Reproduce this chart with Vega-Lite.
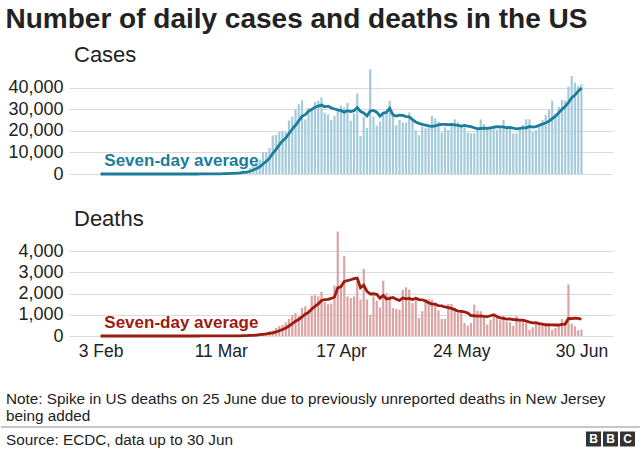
{
  "$schema": "https://vega.github.io/schema/vega-lite/v6.json",
  "background": "white",
  "padding": {"left": 0, "right": 0, "top": 6, "bottom": 2},
  "config": {
    "font": "Liberation Sans",
    "view": {"stroke": null},
    "axis": {"labelFont": "Liberation Sans", "labelColor": "#222222", "domain": false, "ticks": false, "title": null}
  },
  "title": {"text": "Number of daily cases and deaths in the US", "anchor": "start", "frame": "bounds", "dx": 5, "fontSize": 28, "fontWeight": "bold", "color": "#222222", "offset": 10},
  "datasets": {
    "covid": [
      {"date":"2020-02-03","cases":0,"deaths":0},{"date":"2020-02-04","cases":0,"deaths":0},{"date":"2020-02-05","cases":0,"deaths":0},{"date":"2020-02-06","cases":1,"deaths":0},{"date":"2020-02-07","cases":0,"deaths":0},{"date":"2020-02-08","cases":0,"deaths":0},{"date":"2020-02-09","cases":0,"deaths":0},{"date":"2020-02-10","cases":0,"deaths":0},{"date":"2020-02-11","cases":0,"deaths":0},{"date":"2020-02-12","cases":1,"deaths":0},{"date":"2020-02-13","cases":0,"deaths":0},{"date":"2020-02-14","cases":0,"deaths":0},{"date":"2020-02-15","cases":0,"deaths":0},{"date":"2020-02-16","cases":0,"deaths":0},{"date":"2020-02-17","cases":0,"deaths":0},{"date":"2020-02-18","cases":0,"deaths":0},{"date":"2020-02-19","cases":1,"deaths":0},{"date":"2020-02-20","cases":0,"deaths":0},{"date":"2020-02-21","cases":14,"deaths":0},{"date":"2020-02-22","cases":0,"deaths":0},{"date":"2020-02-23","cases":0,"deaths":0},{"date":"2020-02-24","cases":0,"deaths":0},{"date":"2020-02-25","cases":1,"deaths":0},{"date":"2020-02-26","cases":1,"deaths":0},{"date":"2020-02-27","cases":0,"deaths":0},{"date":"2020-02-28","cases":0,"deaths":0},{"date":"2020-02-29","cases":3,"deaths":0},
      {"date":"2020-03-01","cases":3,"deaths":1},{"date":"2020-03-02","cases":7,"deaths":1},{"date":"2020-03-03","cases":23,"deaths":4},{"date":"2020-03-04","cases":19,"deaths":1},{"date":"2020-03-05","cases":33,"deaths":3},{"date":"2020-03-06","cases":77,"deaths":2},{"date":"2020-03-07","cases":53,"deaths":1},{"date":"2020-03-08","cases":166,"deaths":3},{"date":"2020-03-09","cases":116,"deaths":2},{"date":"2020-03-10","cases":75,"deaths":4},{"date":"2020-03-11","cases":187,"deaths":3},{"date":"2020-03-12","cases":309,"deaths":5},{"date":"2020-03-13","cases":329,"deaths":8},{"date":"2020-03-14","cases":553,"deaths":12},{"date":"2020-03-15","cases":587,"deaths":14},{"date":"2020-03-16","cases":843,"deaths":9},{"date":"2020-03-17","cases":982,"deaths":22},{"date":"2020-03-18","cases":1748,"deaths":27},{"date":"2020-03-19","cases":1296,"deaths":43},{"date":"2020-03-20","cases":2836,"deaths":56},{"date":"2020-03-21","cases":4528,"deaths":61},{"date":"2020-03-22","cases":5236,"deaths":100},{"date":"2020-03-23","cases":6731,"deaths":120},{"date":"2020-03-24","cases":10093,"deaths":140},{"date":"2020-03-25","cases":10037,"deaths":160},{"date":"2020-03-26","cases":12012,"deaths":230},{"date":"2020-03-27","cases":17821,"deaths":250},{"date":"2020-03-28","cases":18079,"deaths":380},{"date":"2020-03-29","cases":19452,"deaths":470},{"date":"2020-03-30","cases":19913,"deaths":520},{"date":"2020-03-31","cases":19332,"deaths":640},
      {"date":"2020-04-01","cases":24742,"deaths":810},{"date":"2020-04-02","cases":26473,"deaths":1000},{"date":"2020-04-03","cases":29874,"deaths":1090},{"date":"2020-04-04","cases":32284,"deaths":930},{"date":"2020-04-05","cases":34196,"deaths":1320},{"date":"2020-04-06","cases":25316,"deaths":1400},{"date":"2020-04-07","cases":30561,"deaths":1250},{"date":"2020-04-08","cases":30613,"deaths":1900},{"date":"2020-04-09","cases":33323,"deaths":1920},{"date":"2020-04-10","cases":33901,"deaths":1870},{"date":"2020-04-11","cases":35527,"deaths":2080},{"date":"2020-04-12","cases":28391,"deaths":1600},{"date":"2020-04-13","cases":27620,"deaths":1500},{"date":"2020-04-14","cases":25023,"deaths":1530},{"date":"2020-04-15","cases":26922,"deaths":2380},{"date":"2020-04-16","cases":30148,"deaths":4930},{"date":"2020-04-17","cases":31667,"deaths":2300},{"date":"2020-04-18","cases":30833,"deaths":3770},{"date":"2020-04-19","cases":32922,"deaths":1870},{"date":"2020-04-20","cases":24601,"deaths":1800},{"date":"2020-04-21","cases":28065,"deaths":1870},{"date":"2020-04-22","cases":37289,"deaths":2600},{"date":"2020-04-23","cases":17588,"deaths":1720},{"date":"2020-04-24","cases":26543,"deaths":3160},{"date":"2020-04-25","cases":21352,"deaths":1720},{"date":"2020-04-26","cases":48529,"deaths":1000},{"date":"2020-04-27","cases":26600,"deaths":1870},{"date":"2020-04-28","cases":22400,"deaths":1670},{"date":"2020-04-29","cases":24200,"deaths":1350},{"date":"2020-04-30","cases":28000,"deaths":2610},
      {"date":"2020-05-01","cases":29000,"deaths":2030},{"date":"2020-05-02","cases":33900,"deaths":1900},{"date":"2020-05-03","cases":27800,"deaths":1320},{"date":"2020-05-04","cases":22700,"deaths":1280},{"date":"2020-05-05","cases":25000,"deaths":1240},{"date":"2020-05-06","cases":23800,"deaths":2170},{"date":"2020-05-07","cases":23800,"deaths":2300},{"date":"2020-05-08","cases":28500,"deaths":2190},{"date":"2020-05-09","cases":24700,"deaths":1560},{"date":"2020-05-10","cases":20300,"deaths":1720},{"date":"2020-05-11","cases":18000,"deaths":850},{"date":"2020-05-12","cases":21900,"deaths":1170},{"date":"2020-05-13","cases":21200,"deaths":1750},{"date":"2020-05-14","cases":21600,"deaths":1750},{"date":"2020-05-15","cases":26900,"deaths":1720},{"date":"2020-05-16","cases":25800,"deaths":1560},{"date":"2020-05-17","cases":24200,"deaths":1210},{"date":"2020-05-18","cases":19200,"deaths":800},{"date":"2020-05-19","cases":21600,"deaths":800},{"date":"2020-05-20","cases":20400,"deaths":1510},{"date":"2020-05-21","cases":22700,"deaths":1510},{"date":"2020-05-22","cases":25300,"deaths":1320},{"date":"2020-05-23","cases":23900,"deaths":1090},{"date":"2020-05-24","cases":22200,"deaths":1090},{"date":"2020-05-25","cases":21600,"deaths":610},{"date":"2020-05-26","cases":19200,"deaths":490},{"date":"2020-05-27","cases":18800,"deaths":610},{"date":"2020-05-28","cases":18800,"deaths":1480},{"date":"2020-05-29","cases":21600,"deaths":1190},{"date":"2020-05-30","cases":25300,"deaths":1170},{"date":"2020-05-31","cases":23200,"deaths":930},
      {"date":"2020-06-01","cases":20700,"deaths":540},{"date":"2020-06-02","cases":21200,"deaths":770},{"date":"2020-06-03","cases":20700,"deaths":960},{"date":"2020-06-04","cases":20400,"deaths":900},{"date":"2020-06-05","cases":21200,"deaths":740},{"date":"2020-06-06","cases":25000,"deaths":960},{"date":"2020-06-07","cases":20700,"deaths":690},{"date":"2020-06-08","cases":21600,"deaths":650},{"date":"2020-06-09","cases":18800,"deaths":490},{"date":"2020-06-10","cases":18800,"deaths":930},{"date":"2020-06-11","cases":21600,"deaths":770},{"date":"2020-06-12","cases":22700,"deaths":770},{"date":"2020-06-13","cases":25300,"deaths":650},{"date":"2020-06-14","cases":25300,"deaths":300},{"date":"2020-06-15","cases":19600,"deaths":410},{"date":"2020-06-16","cases":20400,"deaths":610},{"date":"2020-06-17","cases":23200,"deaths":580},{"date":"2020-06-18","cases":25000,"deaths":580},{"date":"2020-06-19","cases":27300,"deaths":580},{"date":"2020-06-20","cases":29700,"deaths":610},{"date":"2020-06-21","cases":34000,"deaths":300},{"date":"2020-06-22","cases":28000,"deaths":380},{"date":"2020-06-23","cases":31200,"deaths":580},{"date":"2020-06-24","cases":34300,"deaths":800},{"date":"2020-06-25","cases":34000,"deaths":690},{"date":"2020-06-26","cases":40500,"deaths":2430},{"date":"2020-06-27","cases":45400,"deaths":580},{"date":"2020-06-28","cases":42300,"deaths":460},{"date":"2020-06-29","cases":40800,"deaths":270},{"date":"2020-06-30","cases":41500,"deaths":300}
    ]
  },
  "vconcat": [
    {
      "vconcat": [
        {
          "width": 544,
          "height": 108,
          "title": {"text": "Cases", "anchor": "start", "frame": "group", "dx": 5, "fontSize": 22, "fontWeight": "normal", "color": "#222222", "offset": -1},
          "data": {"name": "covid"},
          "transform": [{"window": [{"op": "mean", "field": "cases", "as": "avg"}], "frame": [-6, 0], "sort": [{"field": "date"}]}],
          "layer": [
            {
              "mark": {"type": "bar", "color": "#a3cbdb", "size": 2.2},
              "encoding": {
                "x": {"field": "date", "type": "temporal", "scale": {"type": "utc", "domain": [{"year": 2020, "month": 1, "date": 25, "hours": 20, "utc": true}, {"year": 2020, "month": 7, "date": 8, "hours": 4, "utc": true}]}, "axis": null},
                "y": {"field": "cases", "type": "quantitative", "scale": {"domain": [0, 50000]}, "axis": {"values": [0, 10000, 20000, 30000, 40000], "tickCount": 5, "format": ",.0f", "labelOverlap": false, "grid": true, "gridColor": "#dadada", "labelFontSize": 18, "labelPadding": 6, "minExtent": 68, "maxExtent": 68}}
              }
            },
            {
              "mark": {"type": "line", "color": "#1b7d9b", "strokeWidth": 2.8},
              "encoding": {
                "x": {"field": "date", "type": "temporal", "axis": null},
                "y": {"field": "avg", "type": "quantitative", "axis": {"values": [0, 10000, 20000, 30000, 40000], "tickCount": 5, "format": ",.0f", "labelOverlap": false, "grid": true, "gridColor": "#dadada", "labelFontSize": 18, "labelPadding": 6, "minExtent": 68, "maxExtent": 68}}
              }
            },
            {
              "data": {"values": [{"label": "Seven-day average"}]},
              "mark": {"type": "text", "color": "#1b7d9b", "fontSize": 17, "fontWeight": "bold", "align": "left", "baseline": "alphabetic"},
              "encoding": {
                "x": {"datum": {"year": 2020, "month": 2, "date": 4, "hours": 4, "utc": true}, "type": "temporal", "axis": null},
                "y": {"datum": 3800, "type": "quantitative", "axis": {"values": [0, 10000, 20000, 30000, 40000], "tickCount": 5, "format": ",.0f", "labelOverlap": false, "grid": true, "gridColor": "#dadada", "labelFontSize": 18, "labelPadding": 6, "minExtent": 68, "maxExtent": 68}},
                "text": {"field": "label"}
              }
            }
          ]
        },
        {
          "width": 544,
          "height": 106,
          "title": {"text": "Deaths", "anchor": "start", "frame": "group", "dx": 5, "fontSize": 22, "fontWeight": "normal", "color": "#222222", "offset": -1},
          "data": {"name": "covid"},
          "transform": [{"window": [{"op": "mean", "field": "deaths", "as": "avg"}], "frame": [-6, 0], "sort": [{"field": "date"}]}],
          "layer": [
            {
              "mark": {"type": "bar", "color": "#dba3a3", "size": 2.2},
              "encoding": {
                "x": {"field": "date", "type": "temporal", "scale": {"type": "utc", "domain": [{"year": 2020, "month": 1, "date": 25, "hours": 20, "utc": true}, {"year": 2020, "month": 7, "date": 8, "hours": 4, "utc": true}]}, "axis": {"values": [{"year": 2020, "month": 2, "date": 3, "utc": true}, {"year": 2020, "month": 3, "date": 11, "utc": true}, {"year": 2020, "month": 4, "date": 17, "utc": true}, {"year": 2020, "month": 5, "date": 24, "utc": true}, {"year": 2020, "month": 6, "date": 30, "utc": true}], "format": "%-d %b", "grid": false, "labelFontSize": 17.5, "labelPadding": 6}},
                "y": {"field": "deaths", "type": "quantitative", "scale": {"domain": [0, 5000]}, "axis": {"values": [0, 1000, 2000, 3000, 4000], "tickCount": 5, "format": ",.0f", "labelOverlap": false, "grid": true, "gridColor": "#dadada", "labelFontSize": 18, "labelPadding": 6, "minExtent": 68, "maxExtent": 68}}
              }
            },
            {
              "mark": {"type": "line", "color": "#9e1b10", "strokeWidth": 2.8},
              "encoding": {
                "x": {"field": "date", "type": "temporal", "axis": {"values": [{"year": 2020, "month": 2, "date": 3, "utc": true}, {"year": 2020, "month": 3, "date": 11, "utc": true}, {"year": 2020, "month": 4, "date": 17, "utc": true}, {"year": 2020, "month": 5, "date": 24, "utc": true}, {"year": 2020, "month": 6, "date": 30, "utc": true}], "format": "%-d %b", "grid": false, "labelFontSize": 17.5, "labelPadding": 6}},
                "y": {"field": "avg", "type": "quantitative", "axis": {"values": [0, 1000, 2000, 3000, 4000], "tickCount": 5, "format": ",.0f", "labelOverlap": false, "grid": true, "gridColor": "#dadada", "labelFontSize": 18, "labelPadding": 6, "minExtent": 68, "maxExtent": 68}}
              }
            },
            {
              "data": {"values": [{"label": "Seven-day average"}]},
              "mark": {"type": "text", "color": "#9e1b10", "fontSize": 17, "fontWeight": "bold", "align": "left", "baseline": "alphabetic"},
              "encoding": {
                "x": {"datum": {"year": 2020, "month": 2, "date": 4, "hours": 4, "utc": true}, "type": "temporal", "axis": {"values": [{"year": 2020, "month": 2, "date": 3, "utc": true}, {"year": 2020, "month": 3, "date": 11, "utc": true}, {"year": 2020, "month": 4, "date": 17, "utc": true}, {"year": 2020, "month": 5, "date": 24, "utc": true}, {"year": 2020, "month": 6, "date": 30, "utc": true}], "format": "%-d %b", "grid": false, "labelFontSize": 17.5, "labelPadding": 6}},
                "y": {"datum": 380, "type": "quantitative", "axis": {"values": [0, 1000, 2000, 3000, 4000], "tickCount": 5, "format": ",.0f", "labelOverlap": false, "grid": true, "gridColor": "#dadada", "labelFontSize": 18, "labelPadding": 6, "minExtent": 68, "maxExtent": 68}},
                "text": {"field": "label"}
              }
            }
          ]
        }
      ],
      "spacing": 25
    },
    {
      "width": 572,
      "height": 20,
      "title": {"text": ["Note: Spike in US deaths on 25 June due to previously unreported deaths in New Jersey", "being added"], "anchor": "start", "frame": "group", "dx": -63, "fontSize": 15.3, "fontWeight": "normal", "color": "#222222", "lineHeight": 17.5, "offset": 2},
      "layer": [
        {
          "data": {"values": [{"k": 1}]},
          "mark": {"type": "rule", "color": "#8f8f8f", "strokeWidth": 1},
          "encoding": {
            "x": {"datum": -33.853, "type": "quantitative", "scale": {"domain": [-29.853, 3.794], "nice": false, "zero": false}, "axis": null},
            "x2": {"datum": 3.794},
            "y": {"datum": 1, "type": "quantitative", "scale": {"domain": [0, 1], "nice": false, "zero": false}, "axis": null}
          }
        },
        {
          "data": {"values": [{"label": "Source: ECDC, data up to 30 Jun"}]},
          "mark": {"type": "text", "color": "#222222", "fontSize": 15.3, "align": "left", "baseline": "alphabetic", "dx": 5},
          "encoding": {
            "x": {"datum": -33.853, "type": "quantitative"},
            "y": {"datum": 0.1, "type": "quantitative"},
            "text": {"field": "label"}
          }
        },
        {
          "data": {"values": [{"pos": 1, "letter": "B"}, {"pos": 2, "letter": "B"}, {"pos": 3, "letter": "C"}]},
          "mark": {"type": "square", "filled": true, "color": "#333333", "size": 225, "opacity": 1},
          "encoding": {
            "x": {"field": "pos", "type": "quantitative"},
            "y": {"datum": 0.4, "type": "quantitative"}
          }
        },
        {
          "data": {"values": [{"pos": 1, "letter": "B"}, {"pos": 2, "letter": "B"}, {"pos": 3, "letter": "C"}]},
          "mark": {"type": "text", "color": "white", "fontSize": 12, "fontWeight": "bold", "align": "center", "baseline": "middle"},
          "encoding": {
            "x": {"field": "pos", "type": "quantitative"},
            "y": {"datum": 0.4, "type": "quantitative"},
            "text": {"field": "letter"}
          }
        }
      ]
    }
  ],
  "spacing": 31
}
